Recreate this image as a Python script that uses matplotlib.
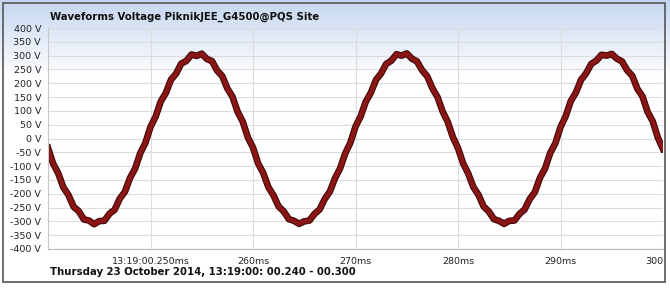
import numpy as np
import matplotlib
matplotlib.use("Agg")
import matplotlib.pyplot as plt
import matplotlib.patheffects as pe
from matplotlib.patches import Rectangle

title = "Waveforms Voltage PiknikJEE_G4500@PQS Site"
footer = "Thursday 23 October 2014, 13:19:00: 00.240 - 00.300"

# samples every 0.5 ms from 240 ms to 300 ms
t_start, t_step = 240.0, 0.5
volts = [
    -34, -91, -126, -177, -205, -247, -263, -293, -297, -310,
    -299, -298, -272, -258, -218, -193, -143, -109, -53, -16,
    42, 79, 134, 165, 213, 235, 271, 281, 304, 299,
    307, 288, 280, 246, 226, 181, 151, 97, 61, 4,
    -33, -90, -125, -176, -206, -246, -264, -292, -298, -309,
    -300, -297, -273, -257, -219, -192, -144, -108, -54, -15,
    43, 80, 133, 166, 212, 236, 270, 282, 305, 300,
    308, 289, 279, 247, 225, 182, 150, 98, 60, 5,
    -35, -90, -127, -176, -204, -246, -264, -292, -298, -309,
    -298, -297, -273, -257, -219, -194, -142, -108, -52, -17,
    41, 80, 135, 166, 212, 236, 270, 282, 303, 300,
    306, 289, 279, 247, 227, 180, 152, 96, 62, 3,
    -38,
]
times = t_start + t_step * np.arange(len(volts))

x_ticks = [250, 260, 270, 280, 290, 300]
x_labels = ["13:19:00.250ms", "260ms", "270ms", "280ms", "290ms", "300"]
y_ticks = list(range(-400, 401, 50))
y_labels = [f"{v} V" for v in y_ticks]

fig = plt.figure(figsize=(6.7, 2.88), dpi=100)
fig.patch.set_facecolor("white")

# header gradient + frame
bg = fig.add_axes([0, 0, 1, 1], zorder=0)
bg.set_axis_off()
grad = np.ones((288, 1, 3))
top = np.array([0.77, 0.84, 0.94])
for i in range(288):
    f = min(i / 75.0, 1.0)
    grad[i, 0] = top * (1 - f) + np.array([1.0, 1.0, 1.0]) * f
bg.imshow(grad, aspect="auto", extent=[0, 670, 288, 0])
bg.set_xlim(0, 670)
bg.set_ylim(288, 0)
bg.add_patch(Rectangle((3, 3), 662, 279, fill=False, edgecolor="#555555", lw=1.2))

ax = fig.add_axes([48 / 670, 39 / 288, 615 / 670, 221 / 288], zorder=1)
ax.set_facecolor("none")
ax.plot(times, volts, color="#8a1515", lw=3.2, solid_joinstyle="round",
        path_effects=[pe.Stroke(linewidth=4.8, foreground="#420808"), pe.Normal()])

ax.set_xlim(240, 300)
ax.set_ylim(-400, 400)
ax.set_xticks(x_ticks)
ax.set_xticklabels(x_labels)
ax.set_yticks(y_ticks)
ax.set_yticklabels(y_labels)
ax.tick_params(length=0, labelsize=6.8, colors="#222222")
ax.tick_params(axis="x", pad=6)
ax.tick_params(axis="y", pad=5)
ax.get_xticklabels()[-1].set_horizontalalignment("right")
ax.grid(True, color="#dcdcdc", lw=0.8)
ax.set_axisbelow(True)
for s in ["top", "right"]:
    ax.spines[s].set_visible(False)
ax.spines["left"].set_color("#c8c8c8")
ax.spines["bottom"].set_color("#b8b8b8")

fig.text(50 / 670, 1 - 17 / 288, title, fontsize=7.3, fontweight="bold",
         va="center", ha="left", color="#111111")
fig.text(50 / 670, 1 - 272 / 288, footer, fontsize=7.3, fontweight="bold",
         va="center", ha="left", color="#111111")

fig.savefig("out.png", dpi=100)
